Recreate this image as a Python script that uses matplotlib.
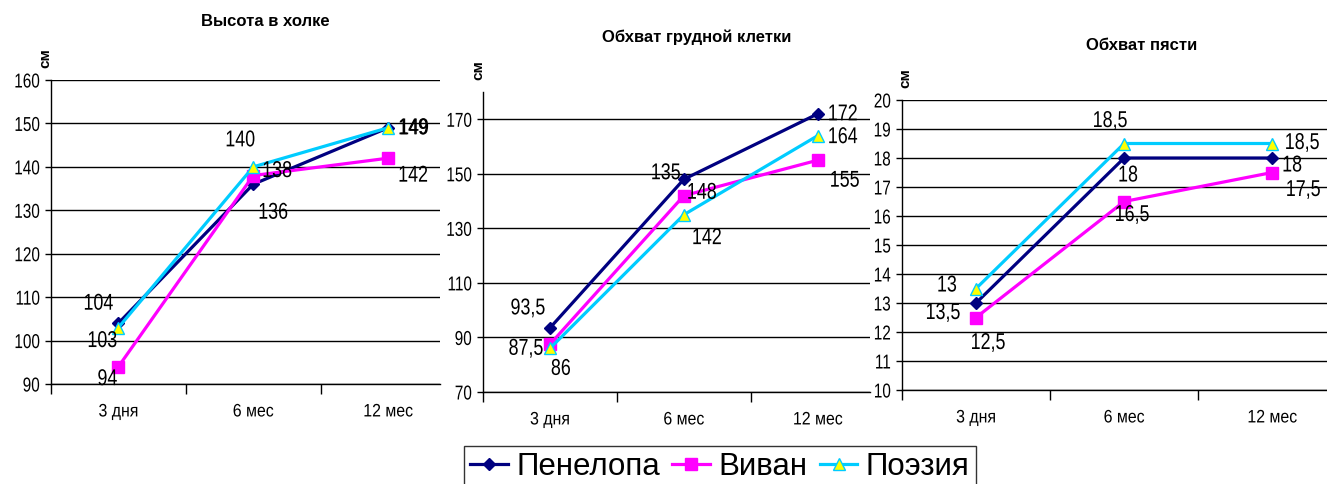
import matplotlib
matplotlib.use("Agg")
import matplotlib.pyplot as plt
from matplotlib.lines import Line2D
from matplotlib.patheffects import AbstractPathEffect
from matplotlib.transforms import Affine2D

W, H, DPI = 1327, 484, 100

plt.rcParams["font.family"] = ["Liberation Sans", "DejaVu Sans"]


class Squeeze(AbstractPathEffect):
    """Narrows glyph outlines horizontally around a chosen anchor."""

    def __init__(self, sx=0.8, anchor="center"):
        super().__init__()
        self.sx = sx
        self.anchor = anchor

    def draw_path(self, renderer, gc, tpath, affine, rgbFace=None):
        v = tpath.vertices
        cx = 0.0
        if len(v):
            x0, x1 = v[:, 0].min(), v[:, 0].max()
            cx = {"left": x0, "right": x1, "center": 0.5 * (x0 + x1)}[self.anchor]
        t = Affine2D().translate(-cx, 0).scale(self.sx, 1).translate(cx, 0) + affine
        renderer.draw_path(gc, tpath, t, rgbFace)


categories = ["3 дня", "6 мес", "12 мес"]
series_names = ["Пенелопа", "Виван", "Поэзия"]

# Высота в холке
height_penelopa = [104, 136, 149]
height_vivan = [94, 138, 142]
height_poeziya = [103, 140, 149]

# Обхват грудной клетки
chest_penelopa = [93.5, 148, 172]
chest_vivan = [87.5, 142, 155]
chest_poeziya = [86, 135, 164]

# Обхват пясти
wrist_penelopa = [13, 18, 18]
wrist_vivan = [12.5, 16.5, 17.5]
wrist_poeziya = [13.5, 18.5, 18.5]

titles = ["Высота в холке", "Обхват грудной клетки", "Обхват пясти"]

styles = [
    dict(color="#000080", marker="D", markersize=6.5, markerfacecolor="#000080",
         markeredgecolor="#000080"),
    dict(color="#FF00FF", marker="s", markersize=8, markerfacecolor="#FF00FF",
         markeredgecolor="#FF00FF"),
    dict(color="#00CCFF", marker="^", markersize=8, markerfacecolor="#FFFF00",
         markeredgecolor="#00CCFF", markeredgewidth=1),
]

fig = plt.figure(figsize=(W / DPI, H / DPI), dpi=DPI)


def px_axes(left, top, right, bottom):
    return fig.add_axes([left / W, 1 - bottom / H, (right - left) / W, (bottom - top) / H])


def fmt(v):
    return f"{v:g}".replace(".", ",")


panels = [
    dict(box=(51, 80, 440, 384), xr=2.385, ylim=(90, 160), yticks=range(90, 161, 10),
         data=[height_penelopa, height_vivan, height_poeziya],
         offsets=[[(-20, 20), (20, -28), (25, 0)],
                  [(-11, -12), (24, 5), (25, -17)],
                  [(-16, -13), (-13, 27), (26, 0)]],
         title_xy=(265, 21), unit_xy=(45, 58)),
    dict(box=(483, 92, 870, 392), xr=2.39, ylim=(70, 180), yticks=range(70, 171, 20),
         data=[chest_penelopa, chest_vivan, chest_poeziya],
         offsets=[[(-22, 20), (18, -13), (25, 0)],
                  [(-24, -4), (23, -42), (27, -20)],
                  [(11, -20), (-18, 42), (25, -1)]],
         title_xy=(697, 37), unit_xy=(478, 70)),
    dict(box=(902, 100, 1327, 390), xr=2.37, ylim=(10, 20), yticks=range(10, 21, 1),
         data=[wrist_penelopa, wrist_vivan, wrist_poeziya],
         offsets=[[(-29, 18), (4, -17), (20, -7)],
                  [(12, -25), (8, -13), (31, -17)],
                  [(-33, -24), (-14, 23), (30, 1)]],
         title_xy=(1142, 45), unit_xy=(905, 78)),
]

x = list(range(len(categories)))

for p, title in zip(panels, titles):
    ax = px_axes(*p["box"])
    ax.set_yticks(list(p["yticks"]))
    ax.set_xticks([-0.5, 0.5, 1.5, 2.5])
    ax.set_xticklabels([])
    ax.set_xticks(x, minor=True)
    ax.set_xticklabels(categories, minor=True, fontsize=13)
    ax.set_xlim(-0.5, p["xr"])
    ax.set_ylim(*p["ylim"])
    ax.grid(axis="y", color="black", linewidth=1.0, zorder=0)
    ax.set_axisbelow(True)
    for s in ("top", "right"):
        ax.spines[s].set_visible(False)
    for s in ("left", "bottom"):
        ax.spines[s].set_color("black")
        ax.spines[s].set_linewidth(1.0)
    ax.tick_params(axis="y", length=4, width=1, pad=4, labelsize=14.5)
    for lbl in ax.get_yticklabels():
        lbl.set_path_effects([Squeeze(0.76, "right")])
    ax.tick_params(axis="x", which="major", length=7, width=1)
    ax.tick_params(axis="x", which="minor", length=0, pad=14)
    for lbl in ax.get_xticklabels(minor=True):
        lbl.set_path_effects([Squeeze(0.88, "center")])

    for vals, st, offs in zip(p["data"], styles, p["offsets"]):
        ax.plot(x, vals, linewidth=2.3, zorder=3, clip_on=False, **st)
        for xi, v, (dx, dy) in zip(x, vals, offs):
            ax.annotate(fmt(v), (xi, v), xytext=(dx, dy), textcoords="offset pixels",
                        ha="center", va="center", fontsize=16.5, color="black",
                        zorder=5, annotation_clip=False,
                        path_effects=[Squeeze(0.78, "center")])

    tx, ty = p["title_xy"]
    fig.text(tx / W, 1 - ty / H, title, ha="center", va="center",
             fontsize=12, fontweight="bold")
    ux, uy = p["unit_xy"]
    fig.text(ux / W, 1 - uy / H, "см", ha="center", va="center", rotation=90,
             fontsize=11, fontweight="bold")

handles = [Line2D([0], [0], linewidth=2.3, **st) for st in styles]
leg = fig.legend(handles, series_names, loc="upper left",
                 bbox_to_anchor=(464 / W, 1 - 446 / H), ncol=3, frameon=True,
                 fancybox=False, edgecolor="black", fontsize=22.5,
                 handlelength=1.2, handletextpad=0.27, columnspacing=0.4,
                 borderpad=0.2, borderaxespad=0)
leg.get_frame().set_linewidth(1.0)

fig.savefig("out.png", dpi=DPI, facecolor="white")
